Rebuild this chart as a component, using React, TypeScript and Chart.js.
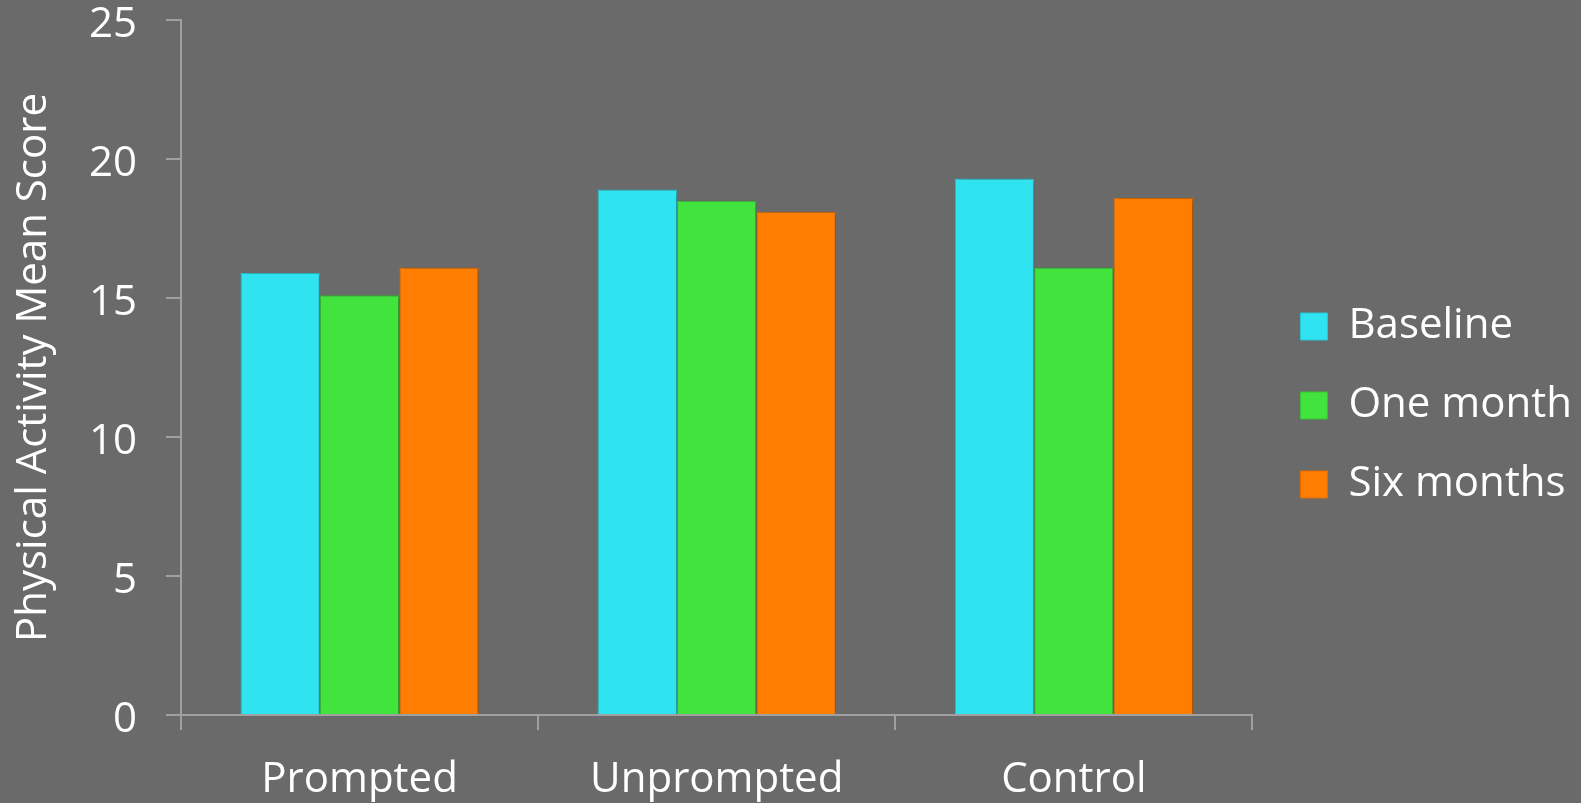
import React, { useEffect, useRef } from "react";
import { Chart, registerables } from "chart.js";

Chart.register(...registerables);

const categories = ["Prompted", "Unprompted", "Control"];
const seriesNames = ["Baseline", "One month", "Six months"];
const baseline = [15.9, 18.9, 19.3];
const oneMonth = [15.1, 18.5, 16.1];
const sixMonths = [16.1, 18.1, 18.6];
const yTicks = [0, 5, 10, 15, 20, 25];
const colors = ["#30E3F0", "#41E33C", "#FF7D00"];
const borders = ["#2bc6d4", "#38c234", "#e06e00"];

const FONT = "'Open Sans', 'Noto Sans', sans-serif";

const shadowPlugin = {
  id: "barShadow",
  beforeDatasetsDraw(chart: any) {
    const ctx = chart.ctx;
    ctx.save();
    ctx.shadowColor = "rgba(0,0,0,0.35)";
    ctx.shadowBlur = 6;
    ctx.shadowOffsetX = 2;
    ctx.shadowOffsetY = 1;
  },
  afterDatasetsDraw(chart: any) {
    chart.ctx.restore();
  },
};

const legendShift = {
  id: "legendShift",
  afterLayout(chart: any) {
    const lg = chart.legend;
    if (!lg) return;
    const dx = chart.chartArea.right + 11 - lg.left;
    lg.left += dx;
    lg.right += dx;
    lg.top += 4;
    lg.bottom += 4;
  },
};

export default function App() {
  const ref = useRef<HTMLCanvasElement>(null);
  useEffect(() => {
    document.body.style.margin = "0";
    document.body.style.background = "#6A6A6A";
    const values = [baseline, oneMonth, sixMonths];
    const chart = new Chart(ref.current!, {
      type: "bar",
      data: {
        labels: categories,
        datasets: seriesNames.map((n, i) => ({
          label: n,
          data: values[i],
          backgroundColor: colors[i],
          borderColor: borders[i],
          borderWidth: 1,
          barPercentage: 1,
          categoryPercentage: 0.667,
        })),
      },
      options: {
        animation: false,
        responsive: false,
        maintainAspectRatio: false,
        layout: { padding: { left: 0, right: 10, top: 0, bottom: 0 } },
        plugins: {
          tooltip: { enabled: false },
          legend: {
            position: "right",
            labels: {
              color: "#FFFFFF",
              font: { family: FONT, size: 42 },
              boxWidth: 27,
              boxHeight: 27,
              padding: 37,
            },
          },
        },
        scales: {
          x: {
            afterFit(axis: any) {
              axis.height = 88;
            },
            grid: {
              display: true,
              drawOnChartArea: false,
              drawTicks: true,
              tickLength: 15,
              color: "#A0A0A0",
              lineWidth: 2,
              offset: true,
            },
            border: { color: "#A0A0A0", width: 2 },
            ticks: {
              color: "#FFFFFF",
              font: { family: FONT, size: 42 },
              padding: 25,
            },
          },
          y: {
            min: 0,
            max: 25,
            afterBuildTicks(axis: any) {
              axis.ticks = yTicks.map((v) => ({ value: v }));
            },
            afterFit(axis: any) {
              axis.width = 181;
              axis.paddingTop = 20;
              axis.paddingBottom = 20;
            },
            grid: {
              display: true,
              drawOnChartArea: false,
              drawTicks: true,
              tickLength: 15,
              color: "#A0A0A0",
              lineWidth: 2,
            },
            border: { color: "#A0A0A0", width: 2 },
            ticks: {
              color: "#FFFFFF",
              font: { family: FONT, size: 42, lineHeight: 1 },
              padding: 29,
              labelOffset: 5,
            },
            title: {
              display: true,
              text: "Physical Activity Mean Score",
              color: "#FFFFFF",
              font: { family: FONT, size: 42, lineHeight: 1 },
              padding: { top: 13, bottom: 0 },
            },
          },
        },
      },
      plugins: [shadowPlugin, legendShift],
    });
    return () => chart.destroy();
  }, []);
  return (
    <div style={{ position: "fixed", inset: 0, background: "#6A6A6A" }}>
      <canvas ref={ref} width={1581} height={803} style={{ display: "block" }} />
    </div>
  );
}
